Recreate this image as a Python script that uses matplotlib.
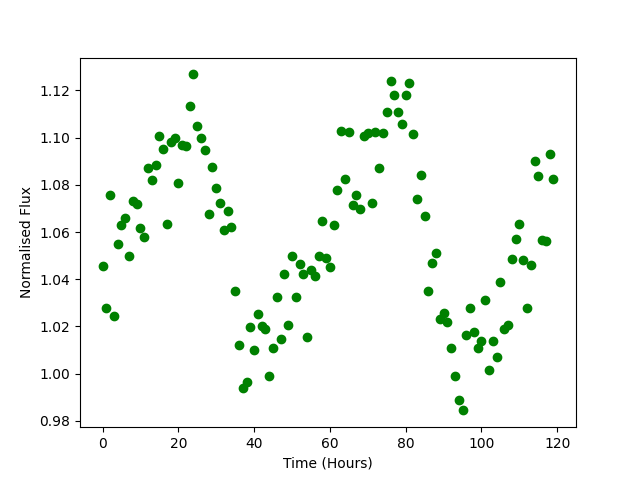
import numpy as np
import matplotlib
matplotlib.use('Agg')
import matplotlib.pyplot as plt

hours = np.arange(120)
flux = [
    1.0454, 1.0276, 1.0759, 1.0246, 1.0550, 1.0630, 1.0660, 1.0500, 1.0730, 1.0720,
    1.0615, 1.0580, 1.0870, 1.0820, 1.0886, 1.1009, 1.0950, 1.0632, 1.0980, 1.1000,
    1.0806, 1.0967, 1.0963, 1.1132, 1.1268, 1.1050, 1.1000, 1.0946, 1.0675, 1.0874,
    1.0785, 1.0721, 1.0610, 1.0690, 1.0623, 1.0350, 1.0123, 0.9941, 0.9963, 1.0196,
    1.0099, 1.0251, 1.0200, 1.0187, 0.9988, 1.0110, 1.0323, 1.0145, 1.0420, 1.0204,
    1.0500, 1.0323, 1.0463, 1.0420, 1.0153, 1.0437, 1.0412, 1.0497, 1.0645, 1.0490,
    1.0450, 1.0630, 1.0780, 1.1030, 1.0823, 1.1026, 1.0713, 1.0759, 1.0696, 1.1005,
    1.1018, 1.0725, 1.1026, 1.0870, 1.1018, 1.1110, 1.1238, 1.1180, 1.1110, 1.1056,
    1.1180, 1.1230, 1.1014, 1.0742, 1.0840, 1.0670, 1.0350, 1.0467, 1.0510, 1.0230,
    1.0255, 1.0217, 1.0110, 0.9988, 0.9890, 0.9844, 1.0162, 1.0280, 1.0175, 1.0107,
    1.0137, 1.0310, 1.0014, 1.0137, 1.0069, 1.0387, 1.0187, 1.0204, 1.0484, 1.0569,
    1.0636, 1.0480, 1.0276, 1.0459, 1.0900, 1.0836, 1.0565, 1.0560, 1.0929, 1.0823,
]

fig = plt.figure(figsize=(6.4, 4.8), dpi=100)
ax = fig.add_subplot(1, 1, 1)
# 시간별 광도
ax.plot(hours, flux, 'go')
ax.set_xlabel('Time (Hours)')
ax.set_ylabel('Normalised Flux')
fig.savefig('out.png')
